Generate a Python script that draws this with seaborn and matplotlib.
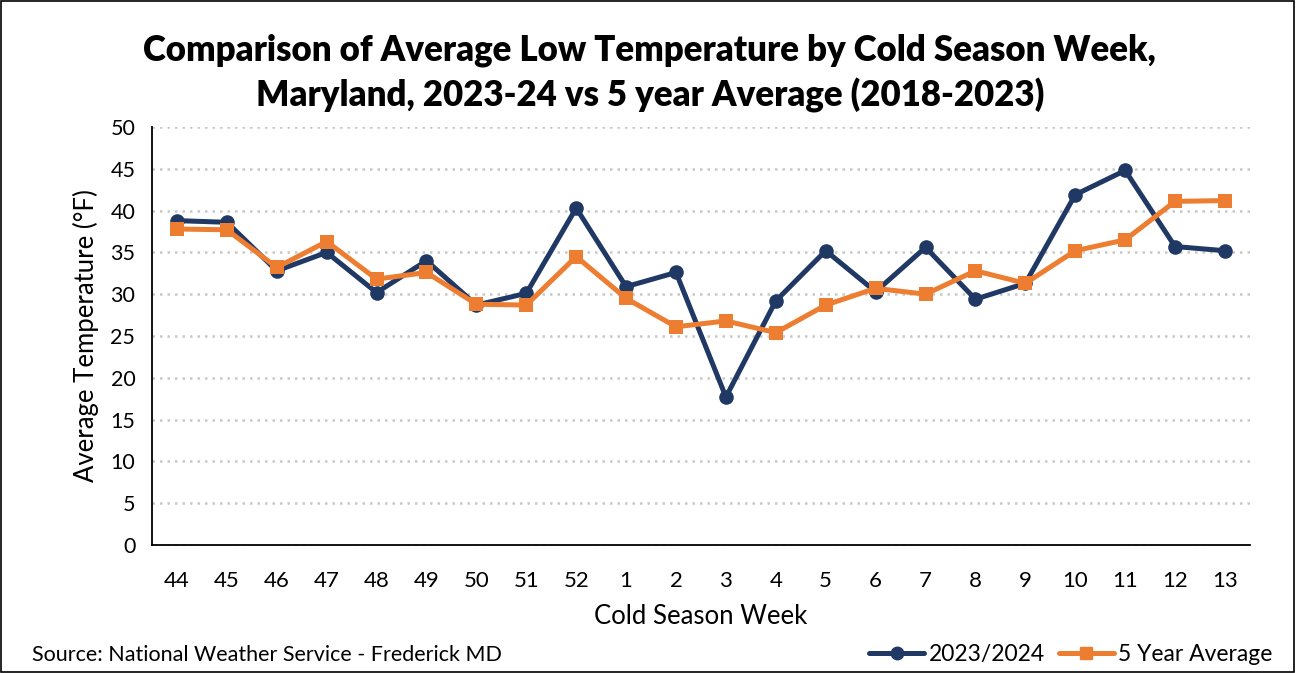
import pandas as pd
import seaborn as sns
import matplotlib.pyplot as plt
from matplotlib.patches import Rectangle
from matplotlib.lines import Line2D

# 数据
weeks = ["44", "45", "46", "47", "48", "49", "50", "51", "52", "1", "2",
         "3", "4", "5", "6", "7", "8", "9", "10", "11", "12", "13"]
temps_2023 = [38.8, 38.6, 32.8, 35.0, 30.2, 34.0, 28.7, 30.1, 40.3, 30.9, 32.6,
              17.7, 29.2, 35.2, 30.3, 35.6, 29.4, 31.3, 41.9, 44.8, 35.7, 35.2]
temps_5yr = [37.8, 37.7, 33.2, 36.3, 31.8, 32.6, 28.8, 28.7, 34.5, 29.5, 26.1,
             26.8, 25.4, 28.7, 30.7, 30.0, 32.8, 31.3, 35.2, 36.5, 41.1, 41.2]
series_names = ["2023/2024", "5 Year Average"]

navy = "#203864"
orange = "#ED7D31"

pos = list(range(len(weeks)))
df = pd.DataFrame({
    "pos": pos + pos,
    "temp": temps_2023 + temps_5yr,
    "series": [series_names[0]] * len(weeks) + [series_names[1]] * len(weeks),
})

sns.set_theme(style="white")
plt.rcParams['font.family'] = ['Lato', 'DejaVu Sans']
plt.rcParams['text.color'] = 'black'
plt.rcParams['axes.labelcolor'] = 'black'
plt.rcParams['xtick.color'] = 'black'
plt.rcParams['ytick.color'] = 'black'

fig = plt.figure(figsize=(12.97, 6.73), dpi=100)
ax = fig.add_axes([0.1172, 0.1902, 0.8465, 0.6211])

sns.lineplot(data=df, x="pos", y="temp", hue="series", style="series",
             palette={series_names[0]: navy, series_names[1]: orange},
             markers={series_names[0]: "o", series_names[1]: "s"},
             dashes=False, linewidth=3.6, markersize=10.5,
             markeredgewidth=0, legend=False, ax=ax, zorder=3)

ax.set_xlim(-0.5, len(weeks) - 0.5)
ax.set_ylim(0, 50)
ax.set_yticks(range(0, 51, 5))
ax.set_xticks(pos)
ax.set_xticklabels(weeks)
ax.set_xticks([p - 0.5 for p in pos] + [len(weeks) - 0.5], minor=True)
ax.tick_params(axis="x", which="major", length=0, pad=19, labelsize=16)
ax.tick_params(axis="x", which="minor", length=8, width=1.2, color="black", direction="out")
ax.tick_params(axis="y", length=7, width=1.2, color="black", direction="out", labelsize=15.5, pad=5)

ax.grid(axis="y", linestyle=(0, (1, 2)), color="#C8C8C8", linewidth=1.8)
for side in ["top", "right"]:
    ax.spines[side].set_visible(False)
for side in ["left", "bottom"]:
    ax.spines[side].set_color("black")
    ax.spines[side].set_linewidth(1.3)

ax.set_xlabel("Cold Season Week", fontsize=18.5, labelpad=9)
ax.set_ylabel("Average Temperature (°F)", fontsize=18.5, labelpad=8)

fig.text(0.501, 0.925, "Comparison of Average Low Temperature by Cold Season Week,",
         ha="center", va="center", fontsize=25, fontweight="heavy")
fig.text(0.501, 0.858, "Maryland, 2023-24 vs 5 year Average (2018-2023)",
         ha="center", va="center", fontsize=25, fontweight="heavy")

fig.text(0.025, 0.027, "Source: National Weather Service - Frederick MD",
         ha="left", va="center", fontsize=15.5)

handles = [
    Line2D([], [], color=navy, marker="o", linewidth=3.6, markersize=9),
    Line2D([], [], color=orange, marker="s", linewidth=3.6, markersize=9),
]
fig.legend(handles, series_names, loc="center right", bbox_to_anchor=(0.997, 0.027),
           ncol=2, frameon=False, fontsize=16.5, handlelength=2.4,
           handletextpad=0.2, columnspacing=0.6)

fig.add_artist(Rectangle((0.001, 0.001), 0.997, 0.997, transform=fig.transFigure,
                         fill=False, edgecolor="black", linewidth=1.2))

fig.savefig("out.png", dpi=100)
